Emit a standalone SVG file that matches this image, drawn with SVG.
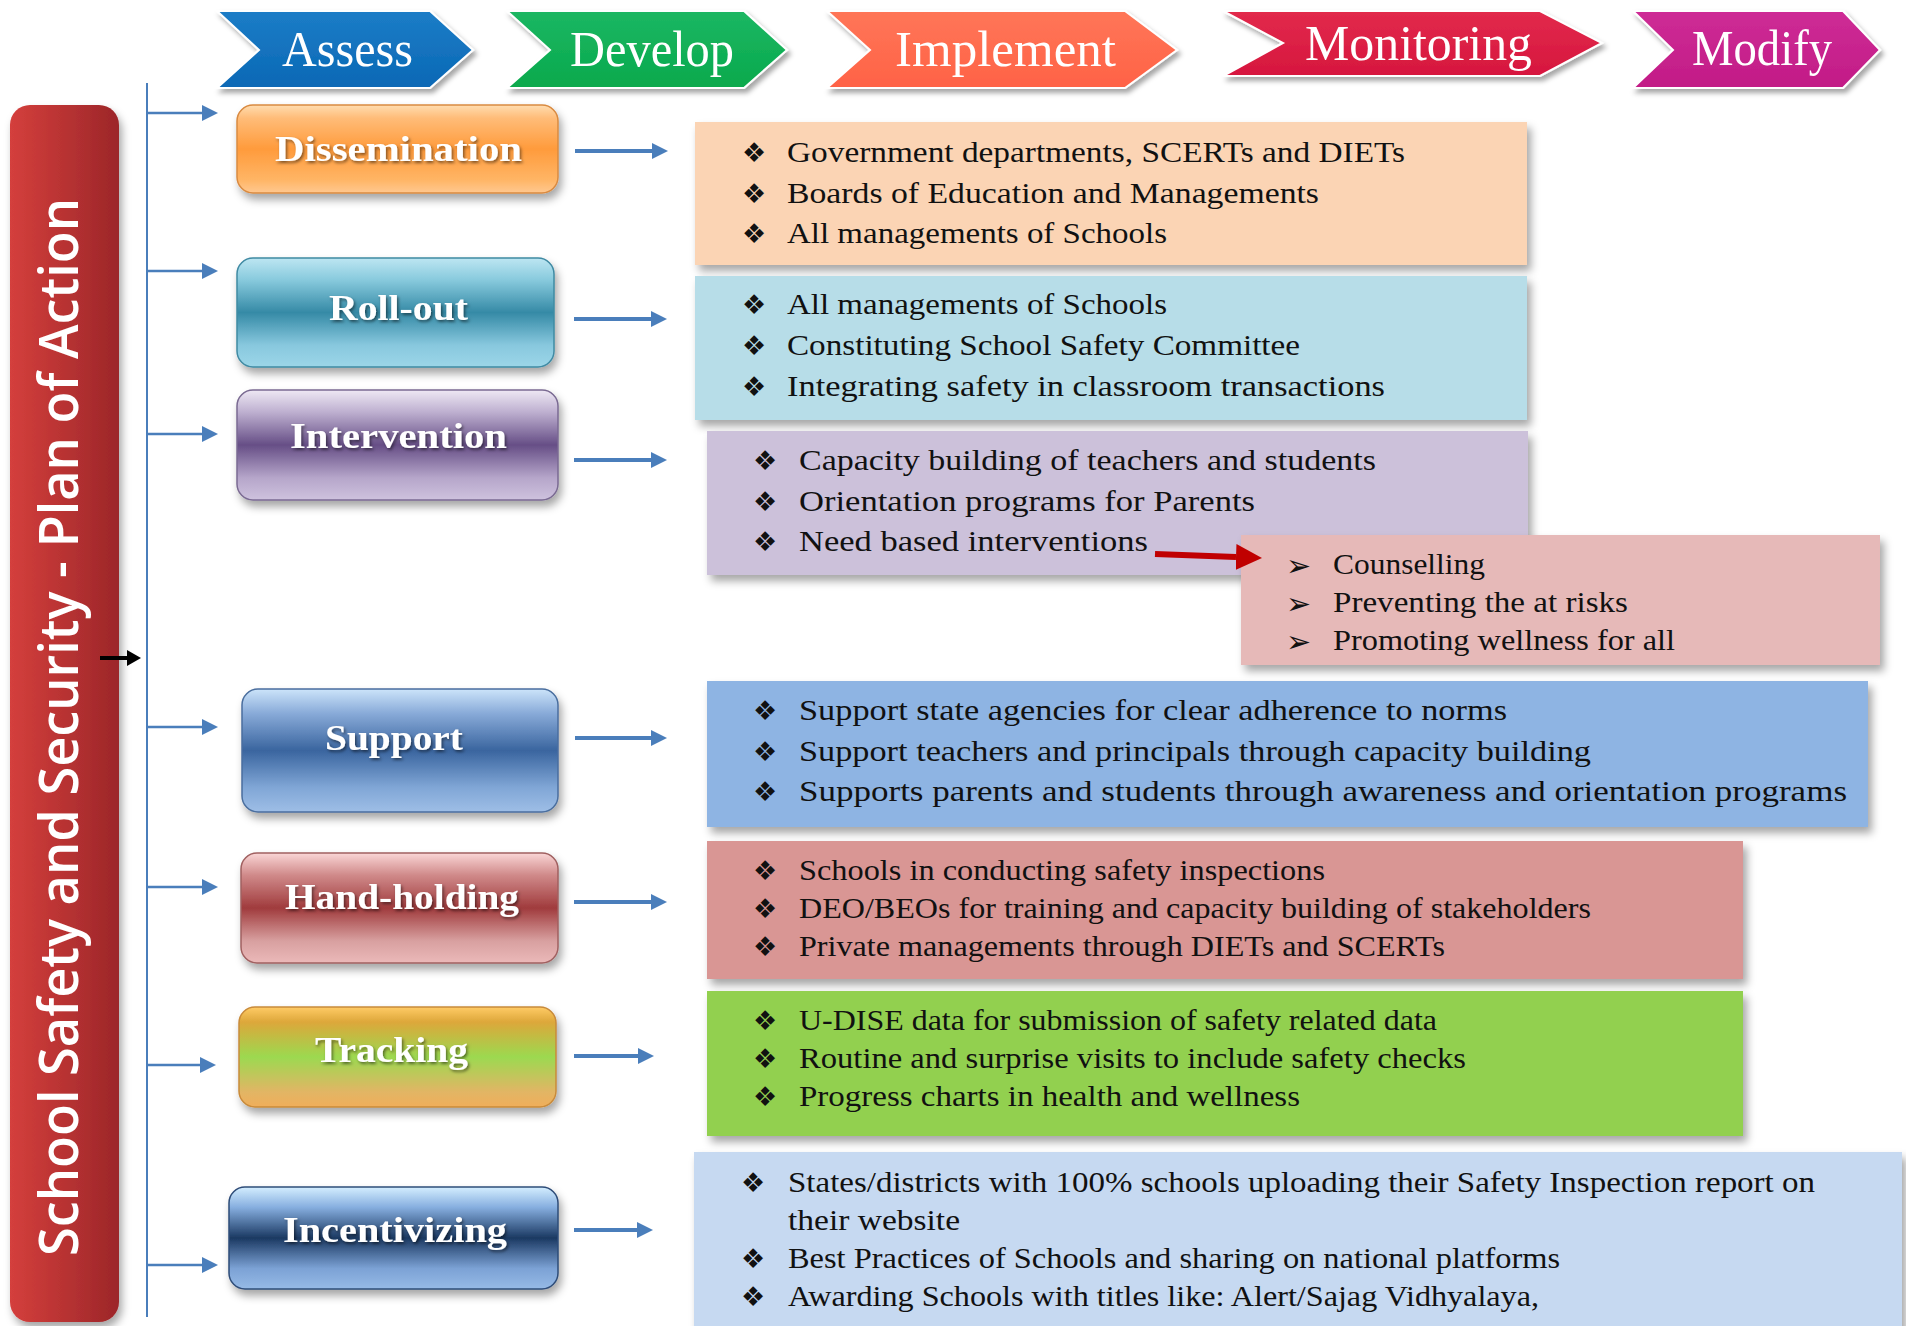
<svg xmlns="http://www.w3.org/2000/svg" width="1906" height="1326" viewBox="0 0 1906 1326">
<defs>
<style>
.chev{stroke:#fff;stroke-width:2;filter:url(#csh)}
.ctxt{font-family:"Liberation Serif","DejaVu Serif",serif;font-size:50px;fill:#fff}
.ntxt{font-family:"Liberation Serif","DejaVu Serif",serif;font-size:36px;font-weight:bold;fill:#fff;text-anchor:start;filter:url(#tsh)}
.nbox{stroke-width:1.5;filter:url(#nsh)}
.cbox{filter:url(#bsh)}
.ltxt{font-family:"Liberation Serif","DejaVu Serif",serif;font-size:30px;fill:#111}
.bul{font-family:"DejaVu Sans",sans-serif;font-size:27px;fill:#111}
.arr{font-family:"DejaVu Sans",sans-serif;font-size:30px;fill:#111}
.conn{stroke:#4A7EBB;fill:none}
</style>
<filter id="csh" x="-10%" y="-10%" width="125%" height="140%"><feDropShadow dx="3" dy="4" stdDeviation="2.5" flood-color="#000" flood-opacity="0.35"/></filter>
<filter id="nsh" x="-10%" y="-10%" width="125%" height="140%"><feDropShadow dx="3" dy="6" stdDeviation="4" flood-color="#000" flood-opacity="0.35"/></filter>
<filter id="bsh" x="-5%" y="-10%" width="112%" height="130%"><feDropShadow dx="4" dy="6" stdDeviation="4" flood-color="#000" flood-opacity="0.35"/></filter>
<filter id="tsh" x="-5%" y="-20%" width="110%" height="150%"><feDropShadow dx="1.5" dy="2" stdDeviation="1.5" flood-color="#000" flood-opacity="0.5"/></filter>
<linearGradient id="gAssess" x1="0" y1="0" x2="0" y2="1"><stop offset="0" stop-color="#1C7DC7"/><stop offset="1" stop-color="#0A68B5"/></linearGradient>
<linearGradient id="gDevelop" x1="0" y1="0" x2="0" y2="1"><stop offset="0" stop-color="#1CB763"/><stop offset="1" stop-color="#08A94C"/></linearGradient>
<linearGradient id="gImpl" x1="0" y1="0" x2="0" y2="1"><stop offset="0" stop-color="#FF7658"/><stop offset="1" stop-color="#FF6246"/></linearGradient>
<linearGradient id="gMon" x1="0" y1="0" x2="0" y2="1"><stop offset="0" stop-color="#E22A4C"/><stop offset="1" stop-color="#D6163E"/></linearGradient>
<linearGradient id="gMod" x1="0" y1="0" x2="0" y2="1"><stop offset="0" stop-color="#CE2C96"/><stop offset="1" stop-color="#C21B86"/></linearGradient>
<linearGradient id="gBar" x1="0" y1="0" x2="1" y2="0"><stop offset="0" stop-color="#D43F3C"/><stop offset="1" stop-color="#9C2629"/></linearGradient>
<linearGradient id="gDis" x1="0" y1="0" x2="0" y2="1"><stop offset="0" stop-color="#FFDDB0"/><stop offset="0.15" stop-color="#FFBC78"/><stop offset="0.5" stop-color="#FF9B3C"/><stop offset="0.85" stop-color="#FFB565"/><stop offset="1" stop-color="#FFC890"/></linearGradient>
<linearGradient id="gRoll" x1="0" y1="0" x2="0" y2="1"><stop offset="0" stop-color="#BDE6F2"/><stop offset="0.2" stop-color="#88CADD"/><stop offset="0.5" stop-color="#358AA6"/><stop offset="0.8" stop-color="#88C8DE"/><stop offset="1" stop-color="#9CD6E8"/></linearGradient>
<linearGradient id="gInt" x1="0" y1="0" x2="0" y2="1"><stop offset="0" stop-color="#EEE8F4"/><stop offset="0.2" stop-color="#BEB0D0"/><stop offset="0.5" stop-color="#664E86"/><stop offset="0.8" stop-color="#B6A6CA"/><stop offset="1" stop-color="#CEC2DE"/></linearGradient>
<linearGradient id="gSup" x1="0" y1="0" x2="0" y2="1"><stop offset="0" stop-color="#CCE4FA"/><stop offset="0.2" stop-color="#88AAD8"/><stop offset="0.5" stop-color="#3A659F"/><stop offset="0.8" stop-color="#80A6D6"/><stop offset="1" stop-color="#9EBEE6"/></linearGradient>
<linearGradient id="gHand" x1="0" y1="0" x2="0" y2="1"><stop offset="0" stop-color="#FAD6D6"/><stop offset="0.2" stop-color="#D08A8A"/><stop offset="0.5" stop-color="#A03B3D"/><stop offset="0.8" stop-color="#D8A0A0"/><stop offset="1" stop-color="#EBB9B9"/></linearGradient>
<linearGradient id="gTrack" x1="0" y1="0" x2="0" y2="1"><stop offset="0" stop-color="#FFCB66"/><stop offset="0.15" stop-color="#DDA73A"/><stop offset="0.5" stop-color="#9CD950"/><stop offset="0.85" stop-color="#E2B565"/><stop offset="1" stop-color="#F0AE5A"/></linearGradient>
<linearGradient id="gInc" x1="0" y1="0" x2="0" y2="1"><stop offset="0" stop-color="#D4EEFF"/><stop offset="0.2" stop-color="#86AEDF"/><stop offset="0.5" stop-color="#1B3962"/><stop offset="0.8" stop-color="#7CA2D5"/><stop offset="1" stop-color="#96BAE6"/></linearGradient>
<marker id="mSmall" markerUnits="userSpaceOnUse" markerWidth="16" markerHeight="16" refX="0" refY="8" orient="auto"><path d="M0,0 L16,8 L0,16 z" fill="#4A7EBB"/></marker>
<marker id="mBig" markerUnits="userSpaceOnUse" markerWidth="16" markerHeight="16" refX="0" refY="8" orient="auto"><path d="M0,0 L16,8 L0,16 z" fill="#4A7EBB"/></marker>
<marker id="mBlack" markerUnits="userSpaceOnUse" markerWidth="14" markerHeight="16" refX="0" refY="8" orient="auto"><path d="M0,0 L14,8 L0,16 z" fill="#000"/></marker>
<marker id="mRed" markerUnits="userSpaceOnUse" markerWidth="26" markerHeight="26" refX="0" refY="13" orient="auto"><path d="M0,0 L26,13 L0,26 z" fill="#C00000"/></marker>
</defs>
<rect width="1906" height="1326" fill="#fff"/>

<g id="phases">
<g id="phase-assess"><polygon class="chev" fill="url(#gAssess)" points="217,11 430,11 473,50 430,88 217,88 259,50"/><text class="ctxt" x="282" y="66" textLength="131" lengthAdjust="spacingAndGlyphs">Assess</text></g>
<g id="phase-develop"><polygon class="chev" fill="url(#gDevelop)" points="507,11 744,11 787,50 744,88 507,88 550,50"/><text class="ctxt" x="570" y="66" textLength="164" lengthAdjust="spacingAndGlyphs">Develop</text></g>
<g id="phase-implement"><polygon class="chev" fill="url(#gImpl)" points="827,11 1125,11 1177,50 1125,88 827,88 870,50"/><text class="ctxt" x="895" y="66" textLength="221" lengthAdjust="spacingAndGlyphs">Implement</text></g>
<g id="phase-monitoring"><polygon class="chev" fill="url(#gMon)" points="1223,11 1540,11 1602,43 1540,76 1223,76 1283,43"/><text class="ctxt" x="1305" y="60" textLength="227" lengthAdjust="spacingAndGlyphs">Monitoring</text></g>
<g id="phase-modify"><polygon class="chev" fill="url(#gMod)" points="1633,11 1843,11 1880,50 1843,88 1633,88 1673,50"/><text class="ctxt" x="1692" y="65" textLength="140" lengthAdjust="spacingAndGlyphs">Modify</text></g>
</g>

<g id="title-bar">
<rect x="10" y="105" width="109" height="1217" rx="20" fill="url(#gBar)" filter="url(#nsh)"/>
<text transform="translate(78,1256) rotate(-90)" x="0" y="0" font-family="'Open Sans','DejaVu Sans',sans-serif" font-weight="600" font-size="55" fill="#fff" textLength="1058" lengthAdjust="spacingAndGlyphs">School Safety and Security - Plan of Action</text>
</g>

<g id="connectors">
<line class="conn" x1="147" y1="83" x2="147" y2="1317" stroke-width="2"/>
<line class="conn" x1="148" y1="113" x2="202" y2="113" stroke-width="2.5" marker-end="url(#mSmall)"/>
<line class="conn" x1="148" y1="271" x2="202" y2="271" stroke-width="2.5" marker-end="url(#mSmall)"/>
<line class="conn" x1="148" y1="434" x2="202" y2="434" stroke-width="2.5" marker-end="url(#mSmall)"/>
<line class="conn" x1="148" y1="727" x2="202" y2="727" stroke-width="2.5" marker-end="url(#mSmall)"/>
<line class="conn" x1="148" y1="887" x2="202" y2="887" stroke-width="2.5" marker-end="url(#mSmall)"/>
<line class="conn" x1="148" y1="1065" x2="200" y2="1065" stroke-width="2.5" marker-end="url(#mSmall)"/>
<line class="conn" x1="148" y1="1265" x2="202" y2="1265" stroke-width="2.5" marker-end="url(#mSmall)"/>
<line x1="100" y1="658" x2="127" y2="658" stroke="#000" stroke-width="4" marker-end="url(#mBlack)"/>
<line class="conn" x1="575" y1="151" x2="652" y2="151" stroke-width="4" marker-end="url(#mBig)"/>
<line class="conn" x1="574" y1="319" x2="651" y2="319" stroke-width="4" marker-end="url(#mBig)"/>
<line class="conn" x1="574" y1="460" x2="651" y2="460" stroke-width="4" marker-end="url(#mBig)"/>
<line class="conn" x1="575" y1="738" x2="651" y2="738" stroke-width="4" marker-end="url(#mBig)"/>
<line class="conn" x1="574" y1="902" x2="651" y2="902" stroke-width="4" marker-end="url(#mBig)"/>
<line class="conn" x1="574" y1="1056" x2="638" y2="1056" stroke-width="4" marker-end="url(#mBig)"/>
<line class="conn" x1="574" y1="1230" x2="637" y2="1230" stroke-width="4" marker-end="url(#mBig)"/>
</g>

<g id="node-dissemination"><rect class="nbox" x="237" y="105" width="321" height="88" rx="16" fill="url(#gDis)" stroke="#D98A40"/><text class="ntxt" x="275" y="161" textLength="247" lengthAdjust="spacingAndGlyphs">Dissemination</text></g>
<g id="node-rollout"><rect class="nbox" x="237" y="258" width="317" height="109" rx="16" fill="url(#gRoll)" stroke="#3F8AA3"/><text class="ntxt" x="329" y="320" textLength="139" lengthAdjust="spacingAndGlyphs">Roll-out</text></g>
<g id="node-intervention"><rect class="nbox" x="237" y="390" width="321" height="110" rx="16" fill="url(#gInt)" stroke="#7A6A92"/><text class="ntxt" x="290" y="448" textLength="217" lengthAdjust="spacingAndGlyphs">Intervention</text></g>
<g id="node-support"><rect class="nbox" x="242" y="689" width="316" height="123" rx="16" fill="url(#gSup)" stroke="#4A6E9E"/><text class="ntxt" x="325" y="750" textLength="138" lengthAdjust="spacingAndGlyphs">Support</text></g>
<g id="node-handholding"><rect class="nbox" x="241" y="853" width="317" height="110" rx="16" fill="url(#gHand)" stroke="#A06060"/><text class="ntxt" x="285" y="909" textLength="234" lengthAdjust="spacingAndGlyphs">Hand-holding</text></g>
<g id="node-tracking"><rect class="nbox" x="239" y="1007" width="317" height="100" rx="16" fill="url(#gTrack)" stroke="#C88A3A"/><text class="ntxt" x="315" y="1062" textLength="153" lengthAdjust="spacingAndGlyphs" fill="#FAFAE6">Tracking</text></g>
<g id="node-incentivizing"><rect class="nbox" x="229" y="1187" width="329" height="102" rx="16" fill="url(#gInc)" stroke="#2E4C78"/><text class="ntxt" x="283" y="1242" textLength="224" lengthAdjust="spacingAndGlyphs">Incentivizing</text></g>

<g id="box-dissemination">
<rect class="cbox" x="695" y="122" width="832" height="143" fill="#FBD4B4"/>
<text class="bul" x="742" y="162">❖</text><text class="ltxt" x="787" y="162" textLength="618" lengthAdjust="spacingAndGlyphs">Government departments, SCERTs and DIETs</text>
<text class="bul" x="742" y="203">❖</text><text class="ltxt" x="787" y="203" textLength="532" lengthAdjust="spacingAndGlyphs">Boards of Education and Managements</text>
<text class="bul" x="742" y="243">❖</text><text class="ltxt" x="787" y="243" textLength="380" lengthAdjust="spacingAndGlyphs">All managements of Schools</text>
</g>
<g id="box-rollout">
<rect class="cbox" x="695" y="276" width="832" height="144" fill="#B7DDE8"/>
<text class="bul" x="742" y="314">❖</text><text class="ltxt" x="787" y="314" textLength="380" lengthAdjust="spacingAndGlyphs">All managements of Schools</text>
<text class="bul" x="742" y="355">❖</text><text class="ltxt" x="787" y="355" textLength="513" lengthAdjust="spacingAndGlyphs">Constituting School Safety Committee</text>
<text class="bul" x="742" y="396">❖</text><text class="ltxt" x="787" y="396" textLength="598" lengthAdjust="spacingAndGlyphs">Integrating safety in classroom transactions</text>
</g>
<g id="box-intervention">
<rect class="cbox" x="707" y="431" width="821" height="144" fill="#CCC1DA"/>
<text class="bul" x="753" y="470">❖</text><text class="ltxt" x="799" y="470" textLength="577" lengthAdjust="spacingAndGlyphs">Capacity building of teachers and students</text>
<text class="bul" x="753" y="511">❖</text><text class="ltxt" x="799" y="511" textLength="456" lengthAdjust="spacingAndGlyphs">Orientation programs for Parents</text>
<text class="bul" x="753" y="551">❖</text><text class="ltxt" x="799" y="551" textLength="349" lengthAdjust="spacingAndGlyphs">Need based interventions</text>
</g>
<g id="box-needs">
<rect class="cbox" x="1241" y="535" width="639" height="130" fill="#E6B9B8"/>
<text class="arr" x="1286" y="576">➢</text><text class="ltxt" x="1333" y="574" textLength="152" lengthAdjust="spacingAndGlyphs">Counselling</text>
<text class="arr" x="1286" y="614">➢</text><text class="ltxt" x="1333" y="612" textLength="295" lengthAdjust="spacingAndGlyphs">Preventing the at risks</text>
<text class="arr" x="1286" y="652">➢</text><text class="ltxt" x="1333" y="650" textLength="342" lengthAdjust="spacingAndGlyphs">Promoting wellness for all</text>
</g>
<g id="box-support">
<rect class="cbox" x="707" y="681" width="1161" height="146" fill="#8EB4E3"/>
<text class="bul" x="753" y="720">❖</text><text class="ltxt" x="799" y="720" textLength="708" lengthAdjust="spacingAndGlyphs">Support state agencies for clear adherence to norms</text>
<text class="bul" x="753" y="761">❖</text><text class="ltxt" x="799" y="761" textLength="792" lengthAdjust="spacingAndGlyphs">Support teachers and principals through capacity building</text>
<text class="bul" x="753" y="801">❖</text><text class="ltxt" x="799" y="801" textLength="1048" lengthAdjust="spacingAndGlyphs">Supports parents and students through awareness and orientation programs</text>
</g>
<g id="box-handholding">
<rect class="cbox" x="707" y="841" width="1036" height="138" fill="#D99694"/>
<text class="bul" x="753" y="880">❖</text><text class="ltxt" x="799" y="880" textLength="526" lengthAdjust="spacingAndGlyphs">Schools in conducting safety inspections</text>
<text class="bul" x="753" y="918">❖</text><text class="ltxt" x="799" y="918" textLength="792" lengthAdjust="spacingAndGlyphs">DEO/BEOs for training and capacity building of stakeholders</text>
<text class="bul" x="753" y="956">❖</text><text class="ltxt" x="799" y="956" textLength="646" lengthAdjust="spacingAndGlyphs">Private managements through DIETs and SCERTs</text>
</g>
<g id="box-tracking">
<rect class="cbox" x="707" y="991" width="1036" height="145" fill="#92D050"/>
<text class="bul" x="753" y="1030">❖</text><text class="ltxt" x="799" y="1030" textLength="638" lengthAdjust="spacingAndGlyphs">U-DISE data for submission of safety related data</text>
<text class="bul" x="753" y="1068">❖</text><text class="ltxt" x="799" y="1068" textLength="667" lengthAdjust="spacingAndGlyphs">Routine and surprise visits to include safety checks</text>
<text class="bul" x="753" y="1106">❖</text><text class="ltxt" x="799" y="1106" textLength="501" lengthAdjust="spacingAndGlyphs">Progress charts in health and wellness</text>
</g>
<g id="box-incentivizing">
<rect class="cbox" x="694" y="1152" width="1208" height="190" fill="#C6D9F1"/>
<text class="bul" x="741" y="1192">❖</text><text class="ltxt" x="788" y="1192" textLength="1027" lengthAdjust="spacingAndGlyphs">States/districts with 100% schools uploading their Safety Inspection report on</text>
<text class="ltxt" x="788" y="1230" textLength="172" lengthAdjust="spacingAndGlyphs">their website</text>
<text class="bul" x="741" y="1268">❖</text><text class="ltxt" x="788" y="1268" textLength="772" lengthAdjust="spacingAndGlyphs">Best Practices of Schools and sharing on national platforms</text>
<text class="bul" x="741" y="1306">❖</text><text class="ltxt" x="788" y="1306" textLength="751" lengthAdjust="spacingAndGlyphs">Awarding Schools with titles like: Alert/Sajag Vidhyalaya,</text>
</g>

<g id="connector-red">
<line x1="1155" y1="554" x2="1236" y2="557" stroke="#C00000" stroke-width="6" marker-end="url(#mRed)"/>
</g>
</svg>
